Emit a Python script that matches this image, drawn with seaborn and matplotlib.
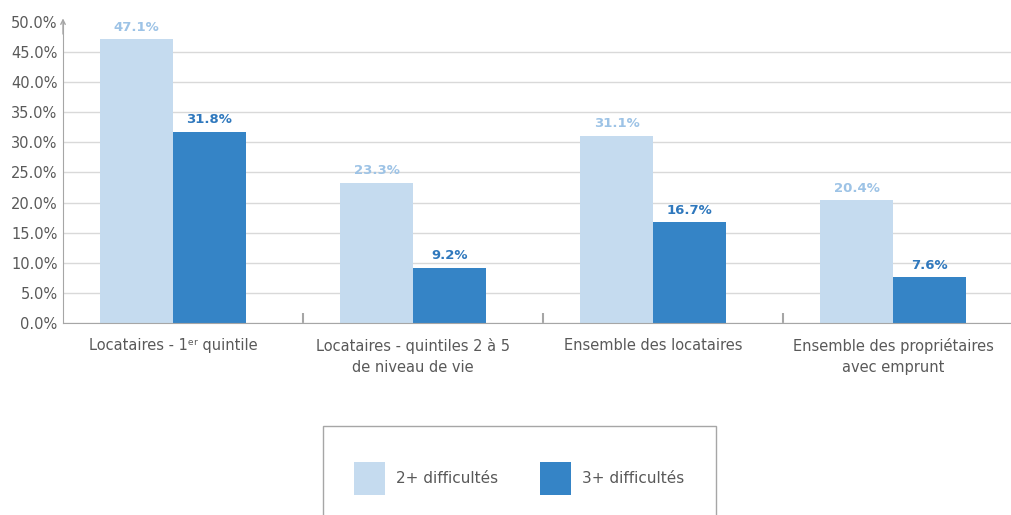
import matplotlib
matplotlib.use("Agg")
import matplotlib.pyplot as plt
import seaborn as sns
import pandas as pd
import numpy as np
from matplotlib.patches import Rectangle

categories = ["Locataires - 1ᵉʳ quintile",
              "Locataires - quintiles 2 à 5\nde niveau de vie",
              "Ensemble des locataires",
              "Ensemble des propriétaires\navec emprunt"]
series = ["2+ difficultés", "3+ difficultés"]
vals_2plus = [47.1, 23.3, 31.1, 20.4]
vals_3plus = [31.8, 9.2, 16.7, 7.6]
yticks = [0, 5, 10, 15, 20, 25, 30, 35, 40, 45, 50]

light = "#C5DBEF"
dark = "#3584C6"
light_lab = "#9DC3E6"
dark_lab = "#2F78BD"
txt = "#595959"

df = pd.DataFrame({
    "cat": categories * 2,
    "serie": [series[0]] * 4 + [series[1]] * 4,
    "val": vals_2plus + vals_3plus,
})

sns.set_style("white")
plt.rcParams["font.family"] = ["DejaVu Sans"]

fig = plt.figure(figsize=(10.12, 5.15), dpi=100)
# axes run past the right edge of the figure, as in the original
ax = fig.add_axes([63 / 1012, (515 - 323) / 515, 1000 / 1012, 301 / 515])

sns.barplot(data=df, x="cat", y="val", hue="serie", palette=[light, dark],
            width=146 / 240, gap=0, saturation=1, linewidth=0, ax=ax,
            legend=True)

ax.set_ylim(0, 50)
ax.set_xlim(-110 / 240, -110 / 240 + 1000 / 240)
ax.set_yticks(yticks)
ax.set_yticklabels([f"{v:.1f}%" for v in yticks])
ax.yaxis.grid(True, color="#D9D9D9", lw=1)
ax.set_axisbelow(True)
ax.set_xlabel("")
ax.set_ylabel("")
ax.yaxis.get_gridlines()[-1].set_visible(False)

for s in ["top", "right"]:
    ax.spines[s].set_visible(False)
ax.spines["bottom"].set_color("#A6A6A6")
ax.spines["left"].set_color("#A6A6A6")
ax.annotate("", xy=(0, 1.012), xytext=(0, 0.96), xycoords="axes fraction",
            arrowprops=dict(arrowstyle="->", color="#A6A6A6", lw=1,
                            mutation_scale=8, shrinkA=0, shrinkB=0))

ax.tick_params(axis="y", length=0, pad=4, labelsize=10.5, labelcolor=txt)
ax.tick_params(axis="x", which="major", bottom=True, length=0, pad=11,
               labelsize=10.5, labelcolor=txt)
ax.set_xticks([i + 130 / 240 for i in range(3)], minor=True)
ax.tick_params(axis="x", which="minor", bottom=True, direction="in",
               length=7, color="#A6A6A6", width=1.5)
for lab in ax.get_xticklabels():
    lab.set_linespacing(1.45)

for cont, color, vals in zip(ax.containers, [light_lab, dark_lab],
                             [vals_2plus, vals_3plus]):
    ax.bar_label(cont, labels=[f"{v:.1f}%" for v in vals], padding=4,
                 color=color, fontweight="bold", fontsize=9.5)

handles, labels = ax.get_legend_handles_labels()
ax.get_legend().remove()
fig.legend(handles, labels, loc="center",
           bbox_to_anchor=(519 / 1012, 1 - 478.5 / 515), ncol=2,
           frameon=False, handlelength=2.05, handleheight=2.95,
           handletextpad=0.7, columnspacing=2.7, fontsize=11,
           labelcolor=txt)
fig.patches.append(Rectangle((323 / 1012, -0.05), (716 - 323) / 1012,
                             1 - 426 / 515 + 0.05, transform=fig.transFigure,
                             fill=False, edgecolor="#A6A6A6", lw=1))

fig.savefig("out.png", dpi=100)
